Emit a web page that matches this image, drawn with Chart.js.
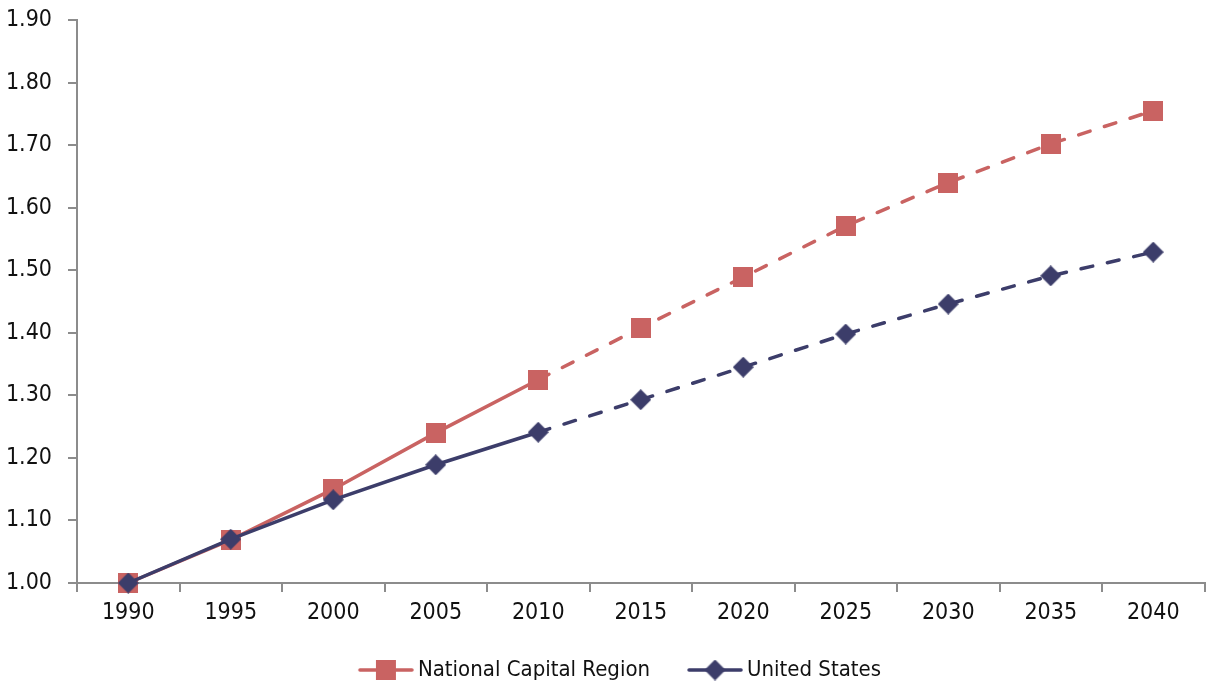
<!DOCTYPE html>
<html>
<head>
<meta charset="utf-8">
<script src="https://cdn.jsdelivr.net/npm/chart.js@4/dist/chart.umd.min.js"></script>
<style>
  html, body { margin: 0; padding: 0; background: #fff; overflow: hidden; }
  #wrap { width: 1212px; height: 685px; }
</style>
</head>
<body>
<div id="wrap"><canvas id="chart"></canvas></div>
<script>
// values
const years = ['1990', '1995', '2000', '2005', '2010', '2015', '2020', '2025', '2030', '2035', '2040'];
const ncr = [1.00, 1.069, 1.150, 1.240, 1.325, 1.408, 1.489, 1.571, 1.640, 1.702, 1.755];
const us = [1.00, 1.070, 1.133, 1.189, 1.241, 1.293, 1.345, 1.398, 1.446, 1.491, 1.529];
const lastActual = 4; // 2010, projections after this are dashed

const red = '#C96362';
const navy = '#3C3D6A';
const font = "'DejaVu Sans Condensed', 'Liberation Sans', sans-serif";

function square(w) {
  const c = document.createElement('canvas');
  c.width = w; c.height = w;
  const g = c.getContext('2d');
  g.fillStyle = red;
  g.fillRect(0, 0, w, w);
  return c;
}
function diamond(w) {
  const c = document.createElement('canvas');
  c.width = w; c.height = w;
  const g = c.getContext('2d');
  g.fillStyle = navy;
  g.beginPath();
  g.moveTo(w / 2, 0); g.lineTo(w, w / 2); g.lineTo(w / 2, w); g.lineTo(0, w / 2);
  g.closePath(); g.fill();
  return c;
}
// legend glyph: line with marker, padded on the left so it sits right before the text
function legendMark(marker, color) {
  const c = document.createElement('canvas');
  c.width = 90; c.height = 28;
  const g = c.getContext('2d');
  g.strokeStyle = color; g.lineWidth = 3.5; g.lineCap = 'round';
  g.beginPath(); g.moveTo(36, 14); g.lineTo(88, 14); g.stroke();
  g.drawImage(marker, 62 - marker.width / 2, 14 - marker.height / 2);
  return c;
}

const sq = square(20);
const dia = diamond(21);
const dashed = ctx => ctx.p0DataIndex >= lastActual ? [12, 15] : undefined;

new Chart(document.getElementById('chart'), {
  type: 'line',
  data: {
    labels: years,
    datasets: [{
      label: 'National Capital Region',
      data: ncr,
      borderColor: red,
      backgroundColor: red,
      borderWidth: 3.5,
      borderCapStyle: 'round',
      pointStyle: sq,
      segment: { borderDash: dashed },
      clip: false,
      order: 1
    }, {
      label: 'United States',
      data: us,
      borderColor: navy,
      backgroundColor: navy,
      borderWidth: 3.5,
      borderCapStyle: 'round',
      pointStyle: dia,
      segment: { borderDash: dashed },
      clip: false,
      order: 0
    }]
  },
  options: {
    responsive: true,
    maintainAspectRatio: false,
    animation: false,
    layout: { padding: 0 },
    plugins: {
      tooltip: { enabled: false },
      legend: {
        position: 'bottom',
        maxHeight: 36,
        labels: {
          usePointStyle: true,
          pointStyleWidth: 76,
          padding: 10,
          color: '#111',
          font: { family: font, size: 22 },
          generateLabels: chart => [
            { text: 'National Capital Region', pointStyle: legendMark(sq, red), fillStyle: red, strokeStyle: red, lineWidth: 0, datasetIndex: 0, fontColor: '#111' },
            { text: 'United States', pointStyle: legendMark(dia, navy), fillStyle: navy, strokeStyle: navy, lineWidth: 0, datasetIndex: 1, fontColor: '#111' }
          ]
        }
      }
    },
    scales: {
      x: {
        offset: true,
        grid: { display: true, drawOnChartArea: false, offset: true, tickLength: 9, color: '#8c8c8c', lineWidth: 2 },
        border: { color: '#8c8c8c', width: 2 },
        ticks: { color: '#111', padding: 7, font: { family: font, size: 23 }, maxRotation: 0 },
        afterFit: s => { s.height = 66; }
      },
      y: {
        min: 1.0,
        max: 1.9,
        grid: { display: true, drawOnChartArea: false, tickLength: 9, color: '#8c8c8c', lineWidth: 2 },
        border: { color: '#8c8c8c', width: 2 },
        ticks: {
          stepSize: 0.1,
          color: '#111',
          padding: 16,
          font: { family: font, size: 23 },
          callback: v => v.toFixed(2)
        },
        afterFit: s => { s.width = 77; s.paddingTop = 20; s.paddingBottom = 0; }
      }
    }
  }
});
</script>
</body>
</html>
